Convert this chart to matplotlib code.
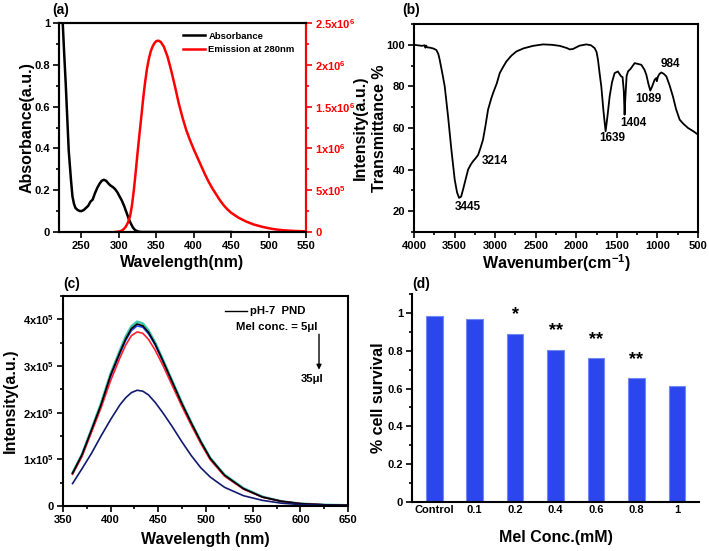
import numpy as np
import matplotlib
matplotlib.use("Agg")
import matplotlib.pyplot as plt
from matplotlib.ticker import AutoMinorLocator, FuncFormatter

plt.rcParams['font.family'] = ['Liberation Sans', 'DejaVu Sans']
plt.rcParams['font.weight'] = 'bold'
plt.rcParams['axes.labelweight'] = 'bold'
plt.rcParams['mathtext.fontset'] = 'custom'
plt.rcParams['mathtext.rm'] = 'Liberation Sans:bold'
plt.rcParams['mathtext.bf'] = 'Liberation Sans:bold'
plt.rcParams['mathtext.default'] = 'bf'

# (a) absorbance and emission
abs_wl = [220, 223, 225, 227, 229, 231, 233, 236, 238, 240, 242, 245, 248, 250, 253,
          256, 259, 262, 265, 268, 271, 274, 277, 280, 283, 286, 289, 292, 295, 298,
          301, 304, 307, 310, 313, 316, 319, 322, 326, 330, 350, 400, 450]
abs_val = [1.35, 1.15, 1.0, 0.85, 0.71, 0.55, 0.39, 0.25, 0.17, 0.135, 0.115, 0.105, 0.1,
           0.1, 0.105, 0.115, 0.125, 0.145, 0.155, 0.185, 0.21, 0.23, 0.245, 0.25, 0.245,
           0.232, 0.222, 0.215, 0.205, 0.19, 0.17, 0.15, 0.125, 0.095, 0.065, 0.04, 0.02,
           0.008, 0.002, 0.0, 0.0, 0.0, 0.0]
em_wl = [295, 300, 303, 306, 309, 312, 315, 317.5, 320, 322.5, 325, 327.5, 330, 332.5,
         335, 337.5, 340, 342.5, 345, 347.5, 350, 353, 356, 360, 365, 370, 375, 380, 385,
         390, 395, 400, 405, 410, 415, 420, 425, 430, 435, 440, 445, 450, 460, 470, 480,
         490, 500, 510, 520, 535, 550]
em_val = [0.0, 0.005, 0.012, 0.03, 0.06, 0.11, 0.19, 0.32, 0.5, 0.72, 0.95, 1.17, 1.38,
          1.6, 1.79, 1.95, 2.07, 2.16, 2.22, 2.26, 2.285, 2.29, 2.275, 2.22, 2.1, 1.93,
          1.74, 1.54, 1.37, 1.22, 1.1, 0.99, 0.89, 0.79, 0.69, 0.6, 0.52, 0.45, 0.38,
          0.32, 0.27, 0.23, 0.17, 0.125, 0.09, 0.065, 0.045, 0.03, 0.02, 0.012, 0.008]  # x1e6

# (b) FTIR
ir_wn = [4000, 3900, 3870, 3860, 3850, 3840, 3800, 3760, 3725, 3700, 3684, 3650, 3622,
         3581, 3540, 3499, 3470, 3445, 3420, 3396, 3360, 3334, 3300, 3273, 3240, 3211,
         3180, 3150, 3120, 3088, 3050, 3026, 2980, 2944, 2900, 2862, 2800, 2739, 2650,
         2533, 2410, 2300, 2205, 2120, 2080, 2041, 1960, 1876, 1820, 1774, 1750, 1733,
         1712, 1692, 1665, 1639, 1615, 1589, 1560, 1528, 1487, 1460, 1446, 1430, 1415,
         1405, 1395, 1380, 1363, 1330, 1281, 1240, 1199, 1160, 1137, 1110, 1088, 1065,
         1035, 1015, 1008, 993, 975, 952, 920, 890, 850, 808, 770, 726, 680, 623, 560, 500]
ir_t = [100, 99.5, 99.8, 98.6, 99.6, 98.8, 98.6, 98.2, 97.5, 95.5, 92.8, 86, 80, 65.6,
        49.6, 35.2, 29, 26.4, 27, 30.4, 36, 40, 42.5, 44, 45.5, 47, 50.5, 54.4, 61, 68.8,
        74, 76.8, 81.5, 86.4, 89.5, 92, 94.8, 96.8, 98.3, 99.5, 100.2, 100, 99.5, 98.5,
        97.8, 98, 99.6, 100.2, 99.8, 98.4, 96.5, 92.8, 86, 80, 68, 58.4, 66, 75.2, 82,
        86.4, 87.2, 85.5, 84.8, 84.5, 78, 66.4, 75, 85, 87.2, 88.5, 91.2, 90.8, 90.4, 88,
        85.6, 81, 78, 80, 83.2, 84, 82.5, 84.8, 86, 86.7, 86, 84.8, 80.5, 75, 69, 64, 62,
        60, 58.5, 56.8]
ir_peaks = ['3445', '3214', '1639', '1404', '1089', '984']
ir_peak_x = [3335, 3002, 1560, 1301, 1116, 845]
ir_peak_y = [22, 44, 55, 62.5, 74, 91]

# (c) fluorescence, x1e5
fl_wl = [360, 370, 380, 390, 400, 410, 416, 422, 428, 434, 440, 447, 455, 465, 475, 485,
         495, 505, 520, 540, 560, 580, 600, 625, 650]
fl_teal = [0.71, 1.11, 1.65, 2.20, 2.83, 3.34, 3.63, 3.85, 3.95, 3.91, 3.76, 3.50, 3.14,
           2.68, 2.22, 1.79, 1.39, 1.03, 0.67, 0.38, 0.20, 0.10, 0.05, 0.025, 0.015]
fl_blue = [0.69, 1.09, 1.61, 2.15, 2.77, 3.27, 3.55, 3.76, 3.86, 3.83, 3.69, 3.45, 3.10,
           2.64, 2.18, 1.76, 1.36, 1.01, 0.65, 0.37, 0.19, 0.10, 0.05, 0.025, 0.015]
fl_red = [0.68, 1.06, 1.58, 2.10, 2.68, 3.18, 3.45, 3.65, 3.73, 3.70, 3.57, 3.34, 3.02,
          2.58, 2.14, 1.73, 1.34, 0.99, 0.64, 0.36, 0.19, 0.10, 0.05, 0.025, 0.015]
fl_black = [0.70, 1.10, 1.63, 2.17, 2.80, 3.30, 3.58, 3.80, 3.90, 3.86, 3.72, 3.47, 3.12,
            2.66, 2.20, 1.78, 1.38, 1.02, 0.66, 0.37, 0.19, 0.10, 0.05, 0.025, 0.015]
fl_navy = [0.48, 0.80, 1.13, 1.50, 1.85, 2.17, 2.32, 2.43, 2.48, 2.46, 2.38, 2.22, 2.00,
           1.70, 1.38, 1.08, 0.82, 0.62, 0.40, 0.22, 0.12, 0.06, 0.03, 0.015, 0.01]

# (d) cell survival
conc = ['Control', '0.1', '0.2', '0.4', '0.6', '0.8', '1']
survival = [0.985, 0.97, 0.89, 0.805, 0.76, 0.655, 0.615]
stars = ['', '', '*', '**', '**', '**', '']

TICK = 8
LAB = 11.5

fig = plt.figure(figsize=(7.09, 5.51), dpi=100)


def style(ax):
    for s in ax.spines.values():
        s.set_linewidth(1.5)
    ax.tick_params(which='both', direction='out', width=1.2, labelsize=TICK, pad=2.5)
    ax.tick_params(which='major', length=4)
    ax.tick_params(which='minor', length=2)


def place_labels(ax, xl, yl, xy, yx):
    # label centres in axes coordinates
    ax.set_xlabel(xl, fontsize=LAB)
    ax.set_ylabel(yl, fontsize=LAB)
    ax.xaxis.set_label_coords(0.5, xy)
    ax.yaxis.set_label_coords(yx, 0.5)
    ax.xaxis.label.set_va('center')
    ax.yaxis.label.set_va('center')


gfmt = FuncFormatter(lambda v, p: '%g' % v)

# ---- (a)
ax = fig.add_axes([0.0832, 0.579, 0.3484, 0.379])
l1, = ax.plot(abs_wl, abs_val, color='black', lw=1.8)
ax.set_xlim(220, 550)
ax.set_ylim(0, 1)
ax.set_xticks([250, 300, 350, 400, 450, 500, 550])
ax.set_yticks([0, 0.2, 0.4, 0.6, 0.8, 1.0])
ax.yaxis.set_major_formatter(gfmt)
ax.yaxis.set_minor_locator(AutoMinorLocator(2))
place_labels(ax, 'Wavelength(nm)', 'Absorbance(a.u.)', -0.145, -0.13)
style(ax)
ax2 = ax.twinx()
l2, = ax2.plot(em_wl, np.array(em_val) * 1e6, color='#ff0000', lw=1.8)
ax2.set_ylim(0, 2.5e6)
ax2.set_yticks([0, 0.5e6, 1e6, 1.5e6, 2e6, 2.5e6])
ax2.set_yticklabels(['0', '5x10$^{5}$', '1x10$^{6}$', '1.5x10$^{6}$', '2x10$^{6}$', '2.5x10$^{6}$'])
ax2.yaxis.set_minor_locator(AutoMinorLocator(2))
style(ax2)
ax2.spines['right'].set_color('#ff0000')
ax2.tick_params(axis='y', which='both', colors='#ff0000', labelsize=TICK)
ax2.set_ylabel('Intensity(a.u.)', fontsize=LAB)
ax2.yaxis.set_label_coords(1.219, 0.5)
ax2.yaxis.label.set_va('center')
ax2.legend([l1, l2], ['Absorbance', 'Emission at 280nm'], loc='upper right',
           frameon=False, fontsize=6.8, handlelength=2.3, handletextpad=0.4,
           borderaxespad=0.4, labelspacing=0.45, bbox_to_anchor=(0.985, 0.995))
fig.text(52 / 709, 1 - 10 / 551, '(a)', fontsize=10, va='center')

# ---- (b)
ax = fig.add_axes([0.584, 0.579, 0.4005, 0.3774])
ax.plot(ir_wn, ir_t, color='black', lw=1.3)
ax.set_xlim(4000, 500)
ax.set_ylim(10, 110)
ax.set_xticks([4000, 3500, 3000, 2500, 2000, 1500, 1000, 500])
ax.set_yticks([20, 40, 60, 80, 100])
ax.xaxis.set_minor_locator(AutoMinorLocator(2))
ax.yaxis.set_minor_locator(AutoMinorLocator(2))
for t, x, y in zip(ir_peaks, ir_peak_x, ir_peak_y):
    ax.text(x, y, t, fontsize=8.5, ha='center', va='center')
place_labels(ax, 'Wavenumber(cm$^{-1}$)', 'Transmittance %', -0.15, -0.12)
style(ax)
fig.text(402 / 709, 1 - 10 / 551, '(b)', fontsize=10, va='center')

# ---- (c)
ax = fig.add_axes([0.0889, 0.0817, 0.4019, 0.3811])
ax.plot(fl_wl, np.array(fl_teal) * 1e5, color='#3cc8a8', lw=1.8)
ax.plot(fl_wl, np.array(fl_blue) * 1e5, color='#2040ff', lw=1.2)
ax.plot(fl_wl, np.array(fl_red) * 1e5, color='#ff2030', lw=1.2)
ax.plot(fl_wl, np.array(fl_black) * 1e5, color='black', lw=1.2)
ax.plot(fl_wl, np.array(fl_navy) * 1e5, color='#101a70', lw=1.2)
ax.set_xlim(350, 650)
ax.set_ylim(0, 4.5e5)
ax.set_xticks([350, 400, 450, 500, 550, 600, 650])
ax.set_yticks([0, 1e5, 2e5, 3e5, 4e5])
ax.set_yticklabels(['0', '1x10$^{5}$', '2x10$^{5}$', '3x10$^{5}$', '4x10$^{5}$'])
ax.xaxis.set_minor_locator(AutoMinorLocator(2))
ax.yaxis.set_minor_locator(AutoMinorLocator(2))
ax.plot([520, 544], [4.17e5, 4.17e5], color='black', lw=1.0)
ax.text(547, 4.17e5, 'pH-7  PND', fontsize=8.2, va='center')
ax.text(575, 3.83e5, 'Mel conc. = 5\u03bcl', fontsize=8.2, ha='center', va='center')
ax.annotate('', xy=(619.5, 2.92e5), xytext=(619.5, 3.68e5),
            arrowprops=dict(arrowstyle='-|>', color='black', lw=1.0, mutation_scale=7,
                            shrinkA=0, shrinkB=0))
ax.text(612, 2.73e5, '35\u03bcl', fontsize=8.2, ha='center', va='center')
place_labels(ax, 'Wavelength (nm)', 'Intensity(a.u.)', -0.16, -0.186)
style(ax)
fig.text(63 / 709, 1 - 284 / 551, '(c)', fontsize=10, va='center')

# ---- (d)
ax = fig.add_axes([0.5811, 0.0889, 0.4049, 0.3775])
xpos = np.arange(len(conc))
ax.bar(xpos, survival, width=0.41, color='#2a46ec', edgecolor='#7388f2', linewidth=0.8)
for x, v, s in zip(xpos, survival, stars):
    if s:
        ax.text(x, v + 0.1, s, fontsize=13, ha='center', va='center')
ax.set_xlim(-0.55, 6.55)
ax.set_ylim(0, 1.1)
ax.set_xticks(xpos)
ax.set_xticklabels(conc)
ax.set_yticks([0, 0.2, 0.4, 0.6, 0.8, 1.0])
ax.yaxis.set_major_formatter(gfmt)
ax.yaxis.set_minor_locator(AutoMinorLocator(2))
ax.spines['top'].set_visible(False)
ax.spines['right'].set_visible(False)
place_labels(ax, 'Mel Conc.(mM)', '% cell survival', -0.172, -0.118)
style(ax)
ax.tick_params(axis='x', which='both', length=0)
fig.text(412 / 709, 1 - 284 / 551, '(d)', fontsize=10, va='center')

fig.savefig('out.png', dpi=100)
